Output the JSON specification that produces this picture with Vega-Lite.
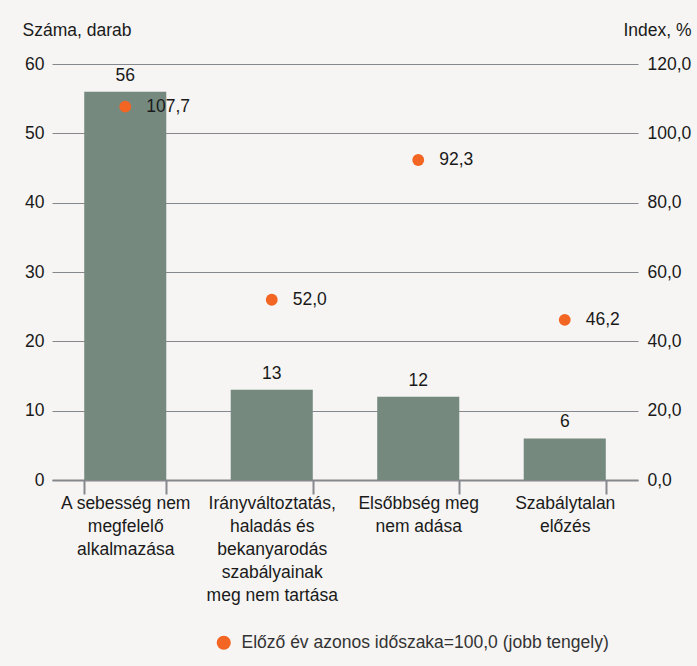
{
  "$schema": "https://vega.github.io/schema/vega-lite/v6.json",
  "autosize": "none",
  "width": 586,
  "height": 416,
  "padding": {"left": 52, "top": 64, "right": 59, "bottom": 186},
  "background": "#f6f5f3",
  "config": {
    "locale": {"number": {"decimal": ",", "thousands": " ", "grouping": [3], "currency": ["", ""]}},
    "font": "Liberation Sans",
    "view": {"stroke": null},
    "axis": {"labelFont": "Liberation Sans", "titleFont": "Liberation Sans", "labelFontSize": 17.5, "titleFontSize": 17.5, "labelColor": "#1a1a1a", "titleColor": "#1a1a1a", "titleFontWeight": "normal"}
  },
  "data": {
    "values": [
      {"cat": "A sebesség nem|megfelelő|alkalmazása", "count": 56, "index": 107.7, "series": "Előző év azonos időszaka=100,0 (jobb tengely)"},
      {"cat": "Irányváltoztatás,|haladás és|bekanyarodás|szabályainak|meg nem tartása", "count": 13, "index": 52.0, "series": "Előző év azonos időszaka=100,0 (jobb tengely)"},
      {"cat": "Elsőbbség meg|nem adása", "count": 12, "index": 92.3, "series": "Előző év azonos időszaka=100,0 (jobb tengely)"},
      {"cat": "Szabálytalan|előzés", "count": 6, "index": 46.2, "series": "Előző év azonos időszaka=100,0 (jobb tengely)"}
    ]
  },
  "encoding": {
    "x": {
      "field": "cat", "type": "nominal", "sort": null,
      "scale": {"paddingInner": 0.44, "paddingOuter": 0.22},
      "axis": {
        "title": null, "labelAngle": 0, "labelExpr": "split(datum.label, '|')",
        "labelLineHeight": 23, "labelPadding": 0, "labelBaseline": "top",
        "tickBand": "extent", "tickSize": 14, "tickWidth": 2, "tickColor": "#85888c",
        "domainColor": "#85888c", "domainWidth": 2
      }
    }
  },
  "layer": [
    {
      "layer": [
        {
          "mark": {"type": "bar", "color": "#75897f"},
          "encoding": {
            "y": {
              "field": "count", "type": "quantitative",
              "scale": {"domain": [0, 60], "nice": false},
              "axis": {
                "values": [0, 10, 20, 30, 40, 50, 60], "title": "Száma, darab",
                "titleAngle": 0, "titleAlign": "left", "titleBaseline": "alphabetic",
                "titleX": -30, "titleY": -29, "domain": false, "ticks": false,
                "labelPadding": 8, "grid": true, "gridColor": "#85888c", "gridWidth": 1
              }
            }
          }
        },
        {
          "mark": {"type": "text", "fontSize": 17.5, "color": "#1a1a1a", "baseline": "alphabetic", "dy": -11},
          "encoding": {
            "y": {"field": "count", "type": "quantitative"},
            "text": {"field": "count", "type": "quantitative"}
          }
        }
      ]
    },
    {
      "layer": [
        {
          "mark": {"type": "point", "filled": true, "shape": "circle", "size": 140, "opacity": 1},
          "encoding": {
            "y": {
              "field": "index", "type": "quantitative",
              "scale": {"domain": [0, 120], "nice": false},
              "axis": {
                "orient": "right", "values": [0, 20, 40, 60, 80, 100, 120], "format": ".1f",
                "title": "Index, %", "titleAngle": 0, "titleAlign": "right", "titleBaseline": "alphabetic",
                "titleX": 53, "titleY": -29, "domain": false, "ticks": false,
                "labelPadding": 9, "grid": false
              }
            },
            "color": {
              "field": "series", "type": "nominal",
              "scale": {"range": ["#f26522"]},
              "legend": {
                "title": null, "orient": "none", "legendX": 163, "legendY": 570,
                "padding": 0, "symbolType": "circle", "symbolSize": 200, "symbolStrokeWidth": 0,
                "labelFontSize": 17.5, "labelFont": "Liberation Sans", "labelColor": "#333333",
                "labelOffset": 9, "labelLimit": 500
              }
            }
          }
        },
        {
          "mark": {"type": "text", "fontSize": 17.5, "color": "#1a1a1a", "align": "left", "baseline": "middle", "dx": 21},
          "encoding": {
            "y": {"field": "index", "type": "quantitative", "scale": {"domain": [0, 120], "nice": false}},
            "text": {"field": "index", "type": "quantitative", "format": ".1f"}
          }
        }
      ]
    }
  ],
  "resolve": {"scale": {"y": "independent"}}
}
